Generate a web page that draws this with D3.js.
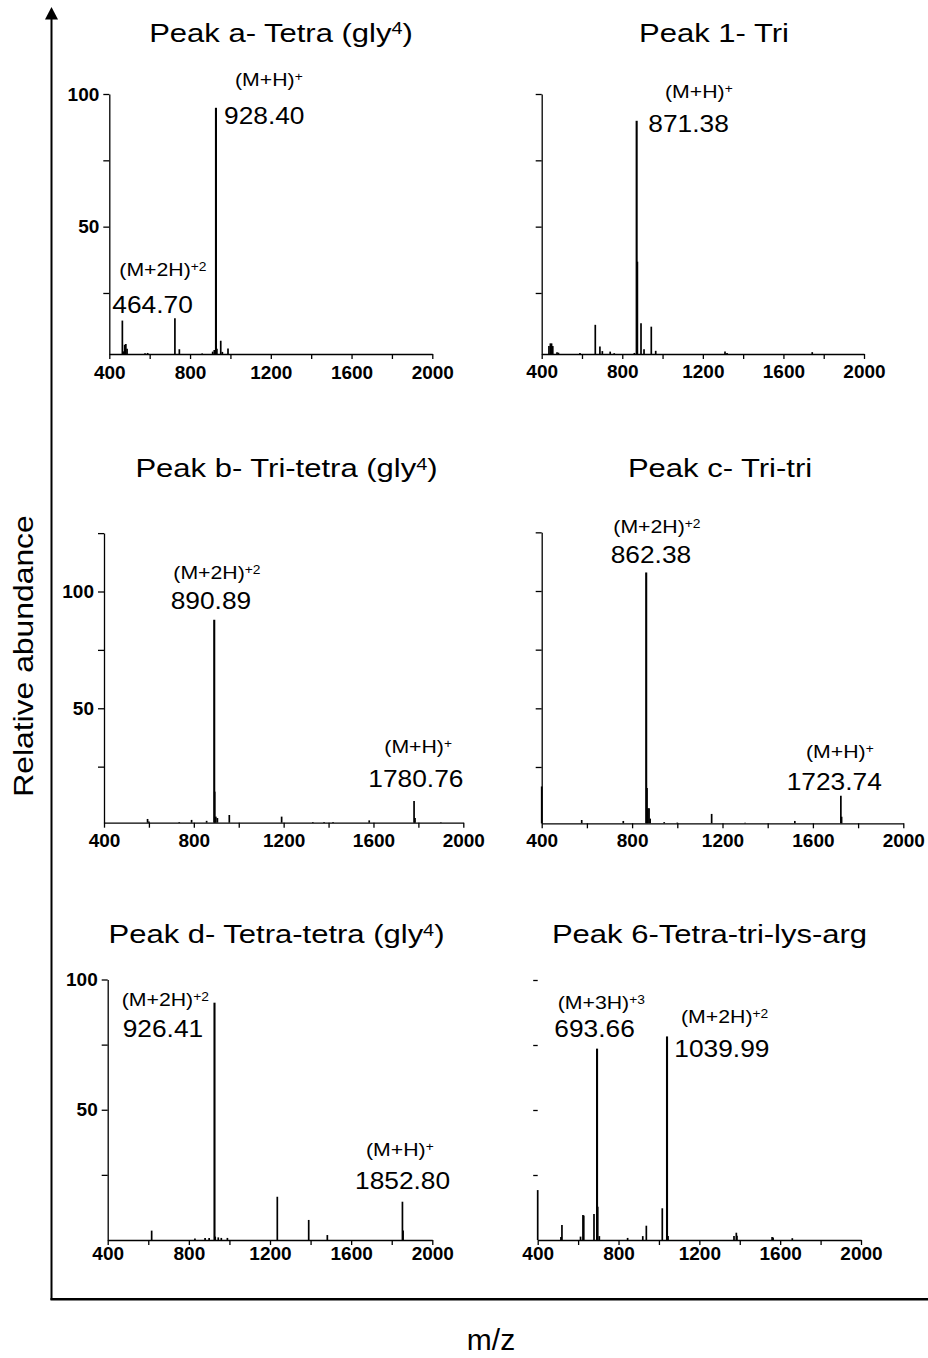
<!DOCTYPE html>
<html>
<head>
<meta charset="utf-8">
<script src="https://cdn.jsdelivr.net/npm/d3@7"></script>
<style>
  body { margin: 0; background: #fff; }
  svg { display: block; font-family: "Liberation Sans", Arial, sans-serif; }
</style>
</head>
<body>
<div id="chart"></div>
<script>
const width = 928,
  height = 1358;

// panel titles, "^" marks a superscript
const titles = [
  "Peak a- Tetra (gly^4)",
  "Peak 1- Tri",
  "Peak b- Tri-tetra (gly^4)",
  "Peak c- Tri-tri",
  "Peak d- Tetra-tetra (gly^4)",
  "Peak 6-Tetra-tri-lys-arg",
];

const mzTicks = [400, 600, 800, 1000, 1200, 1400, 1600, 1800, 2000];
const mzTickLabels = [400, 800, 1200, 1600, 2000];
const abundanceTicks = [25, 50, 75, 100, 125];
const abundanceTickLabels = [50, 100];

// [m/z, relative abundance]
const peaksA = [
  [464.7, 14.6], [470, 3], [476, 5.5], [482, 5.8], [488, 4], [577, 2.3], [590, 2.4],
  [725, 15.5], [747, 3.8], [860, 2.2], [912, 2.9], [920, 3.5], [928.4, 94.8],
  [933, 4], [952, 7], [960, 2.8], [988, 4.1],
];
const peaks1 = [
  [436, 5], [443, 6], [449, 6], [455, 5], [476, 2.7], [483, 2.5], [590, 2.4],
  [666, 13], [689, 4.8], [701, 3.1], [740, 2.9], [760, 2.3], [860, 2.4],
  [871.38, 89.9], [874, 36.8], [893, 13.6], [908, 3.8], [944, 12.3], [966, 3.2],
  [1310, 2.9], [1320, 2.4], [1743, 2.7],
];
const peaksB = [
  [594, 2.6], [600, 1.5], [735, 1.3], [790, 2.2], [857, 1.8], [890.89, 87.9],
  [893, 14.3], [898, 3.6], [905, 3], [958, 4.3], [1191, 3.6], [1330, 1.3],
  [1380, 1.3], [1420, 1.3], [1581, 2], [1780.76, 10.3], [1785, 3], [1900, 1.2],
];
const peaksC = [
  [400, 16.7], [577, 2.4], [761, 2], [862.38, 107.9], [866, 16], [870, 7.4],
  [875, 7.4], [880, 3], [942, 1.5], [1000, 1.3], [1152, 5], [1300, 1.2],
  [1520, 2], [1723.74, 12.7], [1727, 3.8],
];
const peaksD = [
  [616.7, 3.6], [830, 0.6], [880, 0.8], [900, 0.8], [926.41, 91.1], [930, 1.3],
  [945, 1], [960, 0.8], [990, 0.8], [1236, 16.6], [1390.8, 7.7], [1482.6, 1.9],
  [1852.8, 14.7], [1856, 3.6],
];
const peaks6 = [
  [400, 19.2], [515, 1.2], [520, 5.8], [612, 1.3], [624, 9.6], [628, 9.4],
  [678.6, 10], [693.66, 73.6], [697, 12.8], [705, 1.5], [845, 0.8], [920, 1.5],
  [937.6, 5.5], [1016.6, 12.2], [1039.99, 78.3], [1045, 1.5], [1371.5, 1.5],
  [1383, 2.8], [1386, 1.6], [1560, 1.2], [1565, 1], [1660, 0.7],
];

// labelled ions: [m/z, ion]
const annA = [[928.4, "(M+H)^+"], [464.7, "(M+2H)^+2"]];
const ann1 = [[871.38, "(M+H)^+"]];
const annB = [[890.89, "(M+2H)^+2"], [1780.76, "(M+H)^+"]];
const annC = [[862.38, "(M+2H)^+2"], [1723.74, "(M+H)^+"]];
const annD = [[926.41, "(M+2H)^+2"], [1852.8, "(M+H)^+"]];
const ann6 = [[693.66, "(M+3H)^+3"], [1039.99, "(M+2H)^+2"]];

// layout of the six panels
const panels = [
  { peaks: peaksA, ann: annA, x0: 109.3, x1: 432.3, axisY: 354, y100: 94, yBase: 2, yMax: 100,
    yLabels: true, yDomain: true, titleX: 281, titleY: 41.7, tickTop: 12, ySize: 6,
    labelPos: [[235, 85.5, 224, 124.3], [119.3, 276, 112.3, 313.3]] },
  { peaks: peaks1, ann: ann1, x0: 541.7, x1: 864, axisY: 354, y100: 94, yBase: 2, yMax: 100,
    yLabels: false, yDomain: true, titleX: 714, titleY: 41.7, tickTop: 11, ySize: 6,
    labelPos: [[665, 97.7, 648.3, 131.7]] },
  { peaks: peaksB, ann: annB, x0: 104, x1: 463.3, axisY: 822.7, y100: 591.5, yBase: 1, yMax: 125,
    yLabels: true, yDomain: true, titleX: 286.5, titleY: 477, tickTop: 11, ySize: 6,
    labelPos: [[173.3, 579.3, 170.7, 609.3], [384.3, 752.7, 368.3, 786.7]] },
  { peaks: peaksC, ann: annC, x0: 541.7, x1: 903.3, axisY: 823.3, y100: 591, yBase: 1, yMax: 125,
    yLabels: false, yDomain: true, titleX: 720, titleY: 477, tickTop: 10, ySize: 6,
    labelPos: [[613.3, 532.7, 610.7, 563.3], [806, 757.7, 786.7, 790]] },
  { peaks: peaksD, ann: annD, x0: 107.7, x1: 432.3, axisY: 1240, y100: 979.5, yBase: 0, yMax: 100,
    yLabels: true, yDomain: true, titleX: 276.5, titleY: 943, tickTop: 6.5, ySize: 6,
    labelPos: [[121.7, 1006, 122.7, 1037.3], [366, 1156, 355, 1189]] },
  { peaks: peaks6, ann: ann6, x0: 537.7, x1: 861, axisY: 1240, y100: 980, yBase: 0, yMax: 100,
    yLabels: false, yDomain: false, titleX: 709.5, titleY: 943, tickTop: 6.5, ySize: 4.5,
    labelPos: [[557.7, 1009.3, 554.3, 1037.3], [681, 1022.7, 674.3, 1056.7]] },
];

const svg = d3
  .select("#chart")
  .append("svg")
  .attr("width", width)
  .attr("height", height);

// text with ^superscripts
function richText(sel, str, supSize, supDy) {
  const parts = str.split(/\^([^\s)]+)/);
  parts.forEach(function (t, k) {
    if (!t) return;
    const ts = sel.append("tspan").text(t);
    if (k % 2) ts.attr("font-size", supSize).attr("dy", -supDy);
    else if (k > 0) ts.attr("dy", supDy);
  });
}

function styleAxis(g) {
  g.attr("font-family", null).attr("font-size", null);
  g.selectAll(".domain").attr("stroke", "#000").attr("stroke-width", 1.3);
  g.selectAll(".tick line").attr("stroke", "#000").attr("stroke-width", 1.3);
  g.selectAll(".tick text")
    .attr("fill", "#000")
    .attr("font-size", 19)
    .attr("font-weight", "bold");
}

panels.forEach(function (p, i) {
  const g = svg.append("g");
  const x = d3.scaleLinear().domain([400, 2000]).range([p.x0, p.x1]);
  const y = d3.scaleLinear().domain([p.yBase, 100]).range([p.axisY, p.y100]);
  const yAx = y.copy().domain([p.yBase, p.yMax]).range([p.axisY, y(p.yMax)]);

  // peaks
  g.selectAll("line.peak")
    .data(p.peaks)
    .join("line")
    .attr("class", "peak")
    .attr("x1", (d) => x(d[0]))
    .attr("x2", (d) => x(d[0]))
    .attr("y1", p.axisY)
    .attr("y2", (d) => y(d[1]))
    .attr("stroke", "#000")
    .attr("stroke-width", (d) => (d[1] > 20 ? 2.1 : 1.7));

  // axes
  g.append("g")
    .attr("transform", `translate(0,${p.axisY})`)
    .call(
      d3.axisBottom(x)
        .tickValues(mzTicks)
        .tickFormat((d) => (mzTickLabels.includes(d) ? d : ""))
        .tickSize(5)
        .tickSizeOuter(0)
        .tickPadding(p.tickTop - 5)
    )
    .call(styleAxis);

  const ya = g.append("g")
    .attr("transform", `translate(${p.x0},0)`)
    .call(
      d3.axisLeft(yAx)
        .tickValues(abundanceTicks.filter((v) => v <= p.yMax))
        .tickFormat((d) => (p.yLabels && abundanceTickLabels.includes(d) ? d : ""))
        .tickSize(p.ySize)
        .tickSizeOuter(0)
        .tickPadding(4)
    )
    .call(styleAxis);
  if (!p.yDomain) ya.select(".domain").remove();

  // title
  const t = g.append("text")
    .attr("transform", `translate(${p.titleX},${p.titleY}) scale(1.17,1)`)
    .attr("text-anchor", "middle")
    .attr("font-size", 26.5)
    .attr("fill", "#000");
  richText(t, titles[i], 17, 7.5);

  // ion annotations
  p.ann.forEach(function (a, k) {
    const pos = p.labelPos[k];
    const ion = g.append("text")
      .attr("transform", `translate(${pos[0]},${pos[1]}) scale(1.15,1)`)
      .attr("font-size", 18.5)
      .attr("fill", "#000");
    richText(ion, a[1], 12, 5);
    g.append("text")
      .attr("transform", `translate(${pos[2]},${pos[3]}) scale(1.075,1)`)
      .attr("font-size", 24.5)
      .attr("fill", "#000")
      .text(a[0].toFixed(2));
  });
});

// outer frame with arrow
svg.append("line")
  .attr("x1", 51.5).attr("x2", 51.5)
  .attr("y1", 18).attr("y2", 1300)
  .attr("stroke", "#000").attr("stroke-width", 2);
svg.append("path")
  .attr("d", "M51.5,7L45,19.5L58,19.5Z")
  .attr("fill", "#000");
svg.append("line")
  .attr("x1", 50.5).attr("x2", width)
  .attr("y1", 1299.3).attr("y2", 1299.3)
  .attr("stroke", "#000").attr("stroke-width", 2.4);

svg.append("text")
  .attr("transform", "translate(33,656) rotate(-90) scale(1.18,1)")
  .attr("text-anchor", "middle")
  .attr("font-size", 27)
  .attr("fill", "#000")
  .text("Relative abundance");

svg.append("text")
  .attr("x", 491)
  .attr("y", 1350)
  .attr("text-anchor", "middle")
  .attr("font-size", 30)
  .attr("fill", "#000")
  .text("m/z");
</script>
</body>
</html>
